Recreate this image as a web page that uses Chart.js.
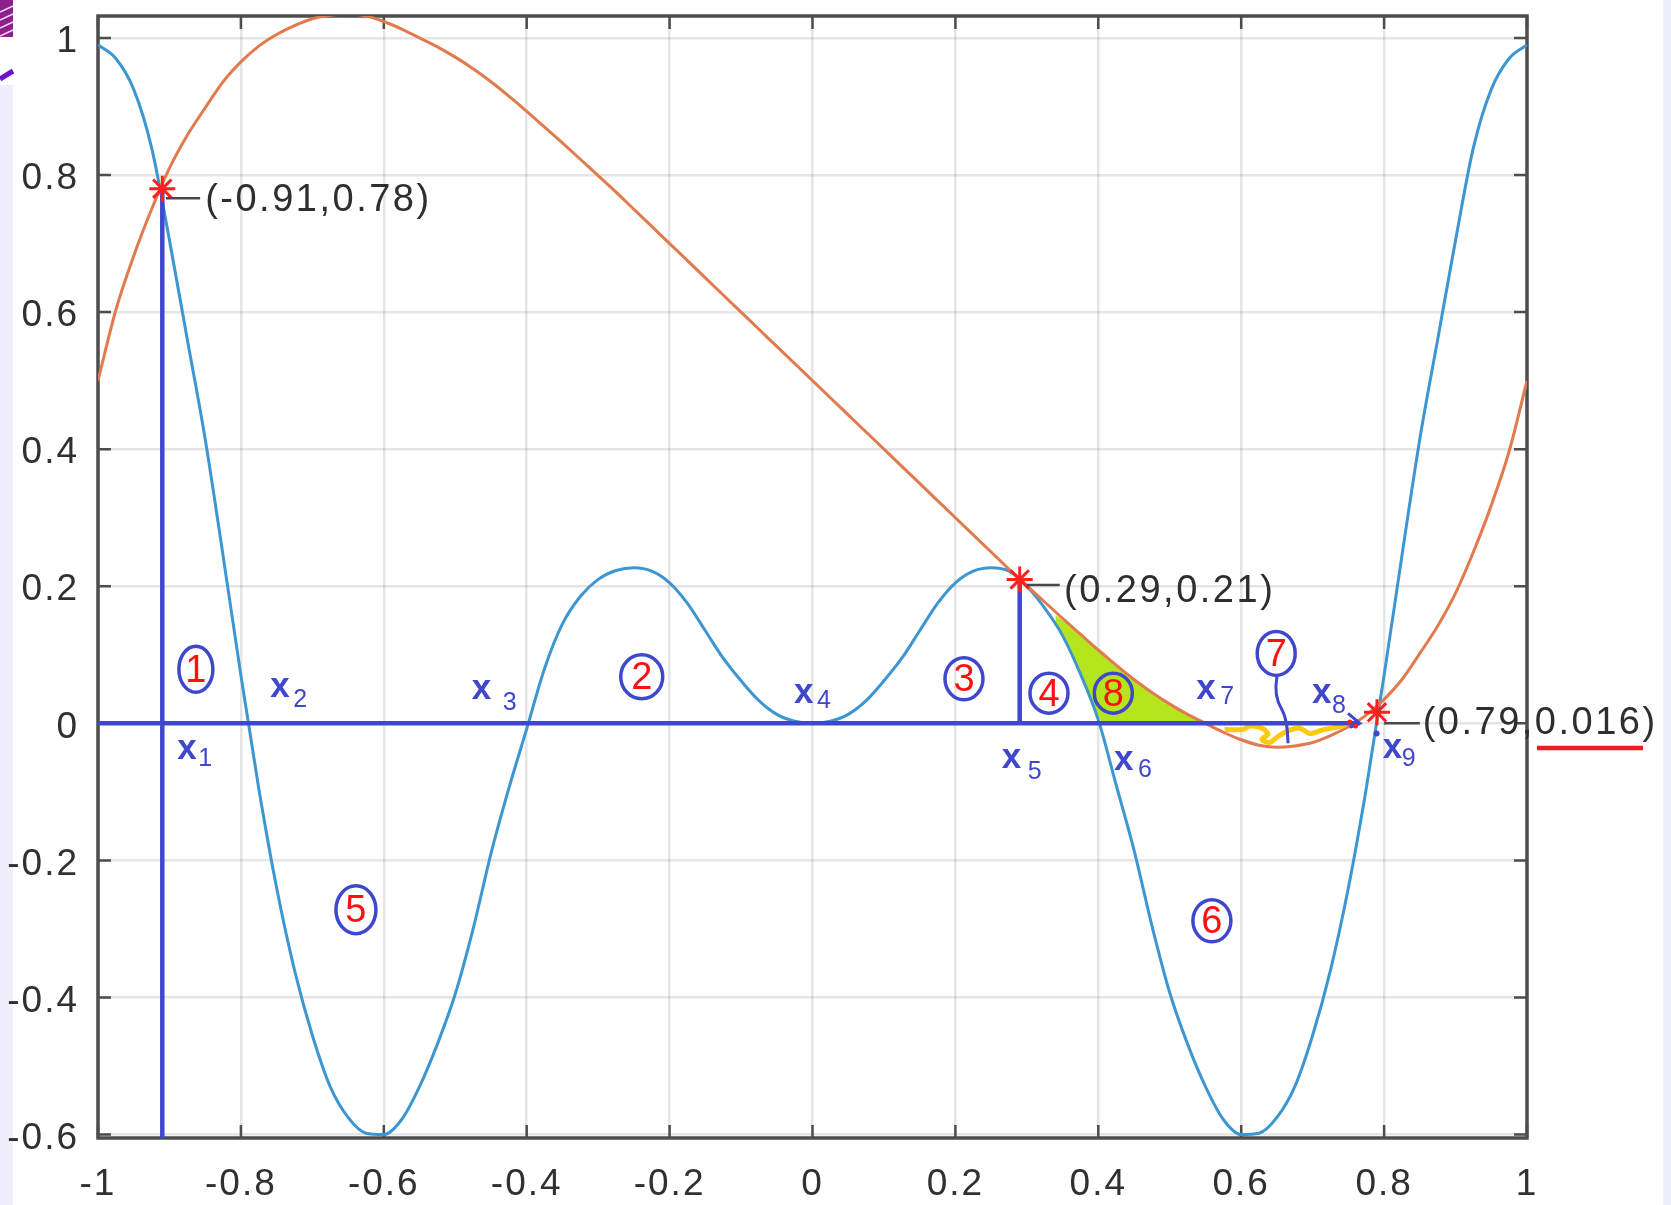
<!DOCTYPE html>
<html>
<head>
<meta charset="utf-8">
<script src="https://cdn.jsdelivr.net/npm/chart.js"></script>
<style>
  html, body { margin: 0; padding: 0; background: #fff; }
  canvas { display: block; }
</style>
</head>
<body>
<canvas id="chart" width="1671" height="1205"></canvas>
<script>
// sample positions
const xs = [-1,-0.975,-0.95,-0.925,-0.9,-0.875,-0.85,-0.825,-0.8,-0.775,-0.75,-0.725,-0.7,-0.675,-0.65,-0.625,-0.6,-0.575,-0.55,-0.525,-0.5,-0.475,-0.45,-0.425,-0.4,-0.375,-0.35,-0.325,-0.3,-0.275,-0.25,-0.225,-0.2,-0.175,-0.15,-0.125,-0.1,-0.075,-0.05,-0.025,0,0.025,0.05,0.075,0.1,0.125,0.15,0.175,0.2,0.225,0.25,0.275,0.3,0.325,0.35,0.375,0.4,0.425,0.45,0.475,0.5,0.525,0.55,0.575,0.6,0.625,0.65,0.675,0.7,0.725,0.75,0.775,0.8,0.825,0.85,0.875,0.9,0.925,0.95,0.975,1];

// blue curve
const blueY = [0.990,0.970,0.925,0.840,0.705,0.560,0.415,0.245,0.070,-0.095,-0.240,-0.360,-0.455,-0.530,-0.575,-0.598,-0.600,-0.578,-0.530,-0.468,-0.395,-0.300,-0.190,-0.095,-0.008,0.080,0.145,0.185,0.210,0.223,0.227,0.222,0.205,0.175,0.135,0.095,0.062,0.033,0.013,0.003,0.000,
  0.003,0.013,0.033,0.062,0.095,0.135,0.175,0.205,0.222,0.227,0.222,0.200,0.168,0.128,0.072,0.005,-0.090,-0.185,-0.295,-0.393,-0.468,-0.530,-0.578,-0.600,-0.598,-0.575,-0.530,-0.455,-0.360,-0.240,-0.095,0.070,0.245,0.415,0.560,0.705,0.840,0.925,0.970,0.990];

// orange curve
const orangeY = [0.500,0.603,0.682,0.750,0.810,0.858,0.898,0.936,0.965,0.988,1.005,1.018,1.028,1.033,1.035,1.032,1.024,1.013,1.000,0.987,0.972,0.955,0.936,0.915,0.893,0.870,0.847,0.823,0.799,0.775,0.750,0.725,0.700,0.675,0.650,0.625,0.600,0.575,0.550,0.525,0.500,
  0.475,0.450,0.425,0.400,0.375,0.350,0.325,0.300,0.275,0.250,0.225,0.201,0.177,0.153,0.130,0.107,0.085,0.064,0.045,0.028,0.013,0.000,-0.013,-0.024,-0.032,-0.035,-0.033,-0.028,-0.018,-0.005,0.012,0.035,0.064,0.102,0.142,0.190,0.250,0.318,0.397,0.500];

// green painted area (region 8)
const greenX = [0.34,0.35,0.36,0.375,0.39,0.405,0.425,0.45,0.475,0.5,0.525,0.545];
const greenTop = [0.158,0.150,0.142,0.128,0.114,0.101,0.083,0.062,0.043,0.026,0.011,0.002];
const greenBottom = [0.144,0.128,0.106,0.072,0.032,0,0,0,0,0,0,0];

// yellow scribble (region 7)
const yellowX = [0.577,0.6025,0.612,0.629,0.6375,0.629,0.640,0.6515,0.668,0.682,0.696,0.713,0.727,0.745];
const yellowY = [-0.009,-0.009,-0.004,-0.007,-0.016,-0.023,-0.028,-0.019,-0.010,-0.007,-0.015,-0.010,-0.007,-0.003];

// marked intersections
const markX = [-0.91, 0.29, 0.79];
const markY = [0.78, 0.21, 0.016];
const markText = ['(-0.91,0.78)', '(0.29,0.21)', '(0.79,0.016)'];

// painted guide lines
const baseLineX = [-1, 0.766];
const baseLineY = [0, 0];
const dropX = [-0.91, 0.29];
const dropTopY = [0.78, 0.21];
const dropBottomY = [-0.605, 0];

const xTickValues = [-1,-0.8,-0.6,-0.4,-0.2,0,0.2,0.4,0.6,0.8,1];
const yTickValues = [-0.6,-0.4,-0.2,0,0.2,0.4,0.6,0.8,1];

// x_i labels: anchor of the "x" (left, baseline) in data units, subscript offset in px
const xLabels = [
  { sub: '1', x: -0.889, y: -0.052, dx: 21, dy: 7 },
  { sub: '2', x: -0.759, y: 0.039, dx: 23, dy: 10 },
  { sub: '3', x: -0.477, y: 0.036, dx: 31, dy: 11 },
  { sub: '4', x: -0.026, y: 0.029, dx: 23, dy: 5 },
  { sub: '5', x: 0.265, y: -0.065, dx: 26, dy: 11 },
  { sub: '6', x: 0.422, y: -0.068, dx: 24, dy: 7 },
  { sub: '7', x: 0.537, y: 0.035, dx: 24, dy: 5 },
  { sub: '8', x: 0.699, y: 0.029, dx: 20, dy: 10 },
  { sub: '9', x: 0.798, y: -0.051, dx: 19, dy: 8 }
];

// circled region numbers: centre in data units, radii in px
const circles = [
  { n: '1', x: -0.863, y: 0.079, rx: 17, ry: 23 },
  { n: '2', x: -0.239, y: 0.068, rx: 21, ry: 22 },
  { n: '3', x: 0.212, y: 0.065, rx: 19, ry: 21 },
  { n: '4', x: 0.331, y: 0.044, rx: 19, ry: 20 },
  { n: '5', x: -0.639, y: -0.272, rx: 20, ry: 24 },
  { n: '6', x: 0.559, y: -0.288, rx: 19, ry: 21 },
  { n: '7', x: 0.649, y: 0.102, rx: 19, ry: 22 },
  { n: '8', x: 0.421, y: 0.044, rx: 19, ry: 20 }
];

// data tip placement: text anchor (left, baseline) and leader line, data units
const tips = [
  { tx: -0.850, ty: 0.747, lx0: -0.905, lx1: -0.857, ly: 0.766 },
  { tx: 0.352, ty: 0.177, lx0: 0.300, lx1: 0.346, ly: 0.202 },
  { tx: 0.854, ty: -0.016, lx0: 0.800, lx1: 0.850, ly: 0.0 }
];

const PAINT = '#3f48cc';
const pts = (xa, ya) => xa.map((x, i) => ({ x: x, y: ya[i] }));

const paintLine = (data) => ({
  data: data, borderColor: PAINT, borderWidth: 4.5, pointRadius: 0,
  fill: false, clip: false, order: 1
});

const datasets = [
  { data: pts(greenX, greenTop), borderWidth: 0, pointRadius: 0, fill: '+1',
    backgroundColor: '#b5e61d', order: 6 },
  { data: pts(greenX, greenBottom), borderWidth: 0, pointRadius: 0, fill: false, order: 6 },
  { data: pts(xs, blueY), borderColor: '#3c96d2', borderWidth: 3, pointRadius: 0,
    cubicInterpolationMode: 'monotone', fill: false, order: 4 },
  { data: pts(xs, orangeY), borderColor: '#e17b4d', borderWidth: 3, pointRadius: 0,
    cubicInterpolationMode: 'monotone', fill: false, order: 3 },
  { data: pts(yellowX, yellowY), borderColor: '#ffc90e', borderWidth: 5, pointRadius: 0,
    tension: 0.3, fill: false, order: 2 },
  paintLine(pts(baseLineX, baseLineY)),
  paintLine([{ x: dropX[0], y: dropTopY[0] }, { x: dropX[0], y: dropBottomY[0] }]),
  paintLine([{ x: dropX[1], y: dropTopY[1] }, { x: dropX[1], y: dropBottomY[1] }]),
  { data: pts(markX, markY), showLine: false, pointStyle: 'star', pointRadius: 13,
    pointBorderColor: '#ff1f1f', pointBorderWidth: 3, pointBackgroundColor: '#ff1f1f',
    clip: false, order: 0 }
];

const decor = {
  id: 'decor',
  beforeDraw(chart) {
    const c = chart.ctx;
    c.save();
    c.fillStyle = '#eeeefc';
    c.fillRect(0, 85, 13, chart.height - 85);
    c.fillRect(1663, 0, 8, chart.height);
    c.fillStyle = '#8d1f8f';
    c.fillRect(0, 0, 13, 37);
    c.strokeStyle = 'rgba(255,255,255,0.85)';
    c.lineWidth = 1.5;
    [6, 14, 22, 30].forEach(y => { c.beginPath(); c.moveTo(0, y + 6); c.lineTo(13, y); c.stroke(); });
    c.strokeStyle = '#6d14cf';
    c.lineWidth = 5;
    c.beginPath(); c.moveTo(0, 79); c.lineTo(13, 71); c.stroke();
    c.restore();
    c.letterSpacing = '2px';
  },
  beforeDatasetsDraw(chart) {
    const c = chart.ctx;
    const { left, right, top, bottom } = chart.chartArea;
    const sx = chart.scales.x, sy = chart.scales.y;
    c.save();
    c.strokeStyle = '#4d4d4d';
    c.lineWidth = 3.5;
    c.strokeRect(left, top, right - left, bottom - top);
    c.lineWidth = 2.5;
    c.beginPath();
    xTickValues.forEach(v => {
      const px = sx.getPixelForValue(v);
      c.moveTo(px, bottom); c.lineTo(px, bottom - 13);
      c.moveTo(px, top); c.lineTo(px, top + 13);
    });
    yTickValues.forEach(v => {
      const py = sy.getPixelForValue(v);
      c.moveTo(left, py); c.lineTo(left + 13, py);
      c.moveTo(right, py); c.lineTo(right - 13, py);
    });
    c.stroke();
    c.restore();
  },
  afterDatasetsDraw(chart) {
    const c = chart.ctx;
    const sx = chart.scales.x, sy = chart.scales.y;
    const X = v => sx.getPixelForValue(v), Y = v => sy.getPixelForValue(v);
    c.save();
    c.letterSpacing = '0px';

    // data tips
    tips.forEach((t, i) => {
      c.strokeStyle = '#4a4a4a';
      c.lineWidth = 2.5;
      c.beginPath(); c.moveTo(X(t.lx0), Y(t.ly)); c.lineTo(X(t.lx1), Y(t.ly)); c.stroke();
      c.fillStyle = '#2e2e2e';
      c.font = '38px "Liberation Sans", Arial, sans-serif';
      c.letterSpacing = '2.5px';
      c.textAlign = 'left'; c.textBaseline = 'alphabetic';
      c.fillText(markText[i], X(t.tx), Y(t.ty));
      c.letterSpacing = '0px';
    });
    // red underline under 0.016
    c.strokeStyle = '#ed1c24';
    c.lineWidth = 4.5;
    c.beginPath(); c.moveTo(1537, 748); c.lineTo(1643, 748); c.stroke();

    // pointer from circle 7 and arrow head at end of base line
    c.strokeStyle = PAINT;
    c.lineWidth = 3;
    c.beginPath();
    c.moveTo(X(0.650), Y(0.068));
    c.quadraticCurveTo(X(0.645), Y(0.040), X(0.657), Y(0.020));
    c.quadraticCurveTo(X(0.665), Y(0.005), X(0.6655), Y(-0.029));
    c.stroke();
    c.beginPath();
    c.moveTo(X(0.7495), Y(0.0145)); c.lineTo(X(0.766), Y(0)); c.lineTo(X(0.752), Y(-0.006));
    c.stroke();
    c.fillStyle = '#ff1f1f';
    [[0.752, 0.002], [0.760, -0.004]].forEach(p => { c.beginPath(); c.arc(X(p[0]), Y(p[1]), 2.5, 0, Math.PI * 2); c.fill(); });
    c.fillStyle = PAINT;
    c.beginPath(); c.arc(X(0.7895), Y(-0.015), 3, 0, Math.PI * 2); c.fill();

    // x_i labels
    c.fillStyle = PAINT;
    c.textAlign = 'left'; c.textBaseline = 'alphabetic';
    xLabels.forEach(l => {
      const px = X(l.x), py = Y(l.y);
      c.font = 'bold 35px "Liberation Sans", Arial, sans-serif';
      c.fillText('x', px, py);
      c.font = '25px "Liberation Sans", Arial, sans-serif';
      c.fillText(l.sub, px + l.dx, py + l.dy);
    });

    // circled numbers
    circles.forEach(o => {
      const px = X(o.x), py = Y(o.y);
      c.strokeStyle = PAINT;
      c.lineWidth = 3.5;
      c.beginPath(); c.ellipse(px, py, o.rx, o.ry, 0, 0, Math.PI * 2); c.stroke();
      c.fillStyle = '#ff1010';
      c.font = '38px "Liberation Sans", Arial, sans-serif';
      c.textAlign = 'center'; c.textBaseline = 'middle';
      c.fillText(o.n, px, py + 2);
    });
    c.restore();
  }
};

const tickFont = { family: '"Liberation Sans", Arial, sans-serif', size: 37 };
const fmt = v => String(Math.round(v * 10) / 10);

new Chart(document.getElementById('chart').getContext('2d'), {
  type: 'line',
  data: { datasets: datasets },
  options: {
    responsive: false,
    animation: false,
    events: [],
    layout: { padding: { top: 12, right: 144, left: 0, bottom: 0 } },
    plugins: { legend: { display: false }, tooltip: { enabled: false } },
    scales: {
      x: {
        type: 'linear', min: -1, max: 1,
        afterBuildTicks: s => { s.ticks = xTickValues.map(v => ({ value: v })); },
        afterFit: s => { s.height = 67; s.paddingLeft = 0; s.paddingRight = 0; },
        border: { display: false },
        grid: { color: 'rgba(0,0,0,0.1)', lineWidth: 2.5, drawTicks: false },
        ticks: { font: tickFont, color: '#303030', padding: 25, maxRotation: 0, autoSkip: false, callback: fmt }
      },
      y: {
        type: 'linear', min: -0.605, max: 1.032,
        afterBuildTicks: s => { s.ticks = yTickValues.map(v => ({ value: v })); },
        afterFit: s => { s.width = 98; s.paddingTop = 0; s.paddingBottom = 0; },
        border: { display: false },
        grid: { color: 'rgba(0,0,0,0.1)', lineWidth: 2.5, drawTicks: false },
        ticks: { font: tickFont, color: '#303030', padding: 19, labelOffset: 4, autoSkip: false, callback: fmt }
      }
    }
  },
  plugins: [decor]
});
</script>
</body>
</html>
